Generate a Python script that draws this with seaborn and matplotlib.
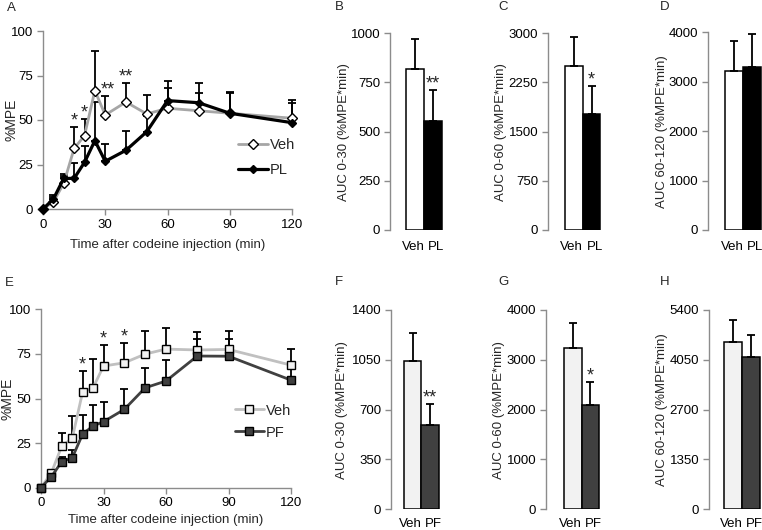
import numpy as np
import pandas as pd
import seaborn as sns
import matplotlib
matplotlib.use("Agg")
import matplotlib.pyplot as plt

sns.set_style("ticks")
plt.rcParams['font.family'] = ['Liberation Sans', 'DejaVu Sans']
plt.rcParams['font.size'] = 9.5

# time points (min)
time = [0, 5, 10, 15, 20, 25, 30, 40, 50, 60, 75, 90, 120]

# panel A : Veh vs PL (%MPE, upper SEM)
veh_a = [0, 4, 14.4, 34, 41.2, 66.5, 52.8, 60.1, 53.4, 56.6, 55.2, 53.8, 51]
veh_a_err = [0, 3, 4, 12.2, 9.4, 22.5, 10.9, 10.9, 10.6, 11.2, 10.2, 11.2, 10.2]
pl_a = [0, 5.6, 17.2, 17.2, 26.2, 38.4, 26.8, 33, 43.4, 60.9, 59.7, 53.8, 48.5]
pl_a_err = [0, 2.3, 2.5, 8.5, 9.4, 21.9, 9.5, 10.8, 9, 11.2, 10.9, 11.7, 10.9]
stars_a = [(15, '*', 46.2), (20, '*', 50.6), (31, '**', 63.7), (40, '**', 71)]

# panel E : Veh vs PF
veh_e = [0, 8.4, 23.4, 27.7, 53.8, 56, 68.2, 70, 74.9, 77.7, 77.2, 77.5, 68.7]
veh_e_err = [0, 1, 7.4, 12.5, 11.8, 16.3, 11.8, 11.3, 12.9, 11.6, 10.3, 10.4, 9.1]
pf_e = [0, 6.2, 14.6, 16.8, 30.1, 34.6, 37, 43.9, 56, 59.8, 73.8, 73.7, 60.3]
pf_e_err = [0, 2, 2.8, 4.3, 10.7, 11.8, 11.2, 11.3, 10.9, 11.8, 9.6, 9.4, 8]
stars_e = [(20, '*', 65.6), (30, '*', 80), (40, '*', 81.3)]

# AUC bars
groups_top = ['Veh', 'PL']
groups_bot = ['Veh', 'PF']
auc_b = [817, 556]; auc_b_err = [154, 156]
auc_c = [2502, 1765]; auc_c_err = [447, 432]
auc_d = [3224, 3305]; auc_d_err = [607, 655]
auc_f = [1042, 592]; auc_f_err = [199, 150]
auc_g = [3242, 2087]; auc_g_err = [490, 470]
auc_h = [4538, 4132]; auc_h_err = [580, 579]

W, H = 762, 530
fig = plt.figure(figsize=(W / 100, H / 100), dpi=100)

spine_col = '#8c8c8c'


def px_axes(left, bottom_y, top_y, width):
    # pixel coords (from top) -> figure fraction
    return fig.add_axes([left / W, (H - bottom_y) / H, width / W, (bottom_y - top_y) / H])


def style(ax):
    for s in ['top', 'right']:
        ax.spines[s].set_visible(False)
    for s in ['left', 'bottom']:
        ax.spines[s].set_color(spine_col)
        ax.spines[s].set_linewidth(1)
    ax.tick_params(colors=spine_col, labelcolor='black', length=4, width=1, labelsize=9.5, pad=3)


def line_panel(ax, ctrl, ctrl_err, trt, trt_err, trt_name, stars, ctrl_style, trt_style,
               leg_pos, leg_space, ylab_x, xpad):
    df = pd.DataFrame({'time': time, 'Veh': ctrl, trt_name: trt})
    ax.errorbar(time, ctrl, yerr=[np.zeros(len(ctrl)), ctrl_err], fmt='none',
                ecolor='black', elinewidth=1.3, capsize=3, capthick=1.3, zorder=2, clip_on=False)
    ax.errorbar(time, trt, yerr=[np.zeros(len(trt)), trt_err], fmt='none',
                ecolor='black', elinewidth=1.3, capsize=3, capthick=1.3, zorder=2, clip_on=False)
    sns.lineplot(data=df, x='time', y='Veh', ax=ax, label='Veh', zorder=3, clip_on=False, **ctrl_style)
    sns.lineplot(data=df, x='time', y=trt_name, ax=ax, label=trt_name, zorder=4, clip_on=False, **trt_style)
    for t, s, cap in stars:
        ax.text(t, cap + 0.8, s, ha='center', va='baseline', fontsize=13)
    ax.set_xlim(0, 120)
    ax.set_ylim(0, 100)
    ax.set_xticks([0, 30, 60, 90, 120])
    ax.set_yticks([0, 25, 50, 75, 100])
    ax.set_xlabel('Time after codeine injection (min)', labelpad=xpad, fontsize=9.5)
    ax.set_ylabel('%MPE', fontsize=10)
    ax.yaxis.set_label_coords(ylab_x, 0.5)
    style(ax)
    ax.legend(frameon=False, loc='center left', bbox_to_anchor=leg_pos, handlelength=2.0,
              handletextpad=0.15, labelspacing=leg_space, fontsize=10.5, borderpad=0,
              borderaxespad=0)


def bar_panel(ax, groups, vals, errs, colors, yticks, lo, ylabel, ylab_x, star=None, xpad=8):
    df = pd.DataFrame({'group': groups, 'auc': vals})
    sns.barplot(data=df, x='group', y='auc', hue='group', palette=colors, legend=False,
                width=1, edgecolor='black', linewidth=1.1, ax=ax, zorder=2)
    ax.errorbar([0, 1], vals, yerr=[[0, 0], errs], fmt='none', ecolor='black',
                elinewidth=1.3, capsize=3, capthick=1.3, zorder=3)
    ymax = yticks[-1]
    if star:
        ax.text(1, vals[1] + errs[1] + 0.008 * ymax, star, ha='center', va='baseline', fontsize=13)
    ax.set_ylim(0, ymax)
    ax.set_yticks(yticks)
    ax.set_xlim(lo, lo + 3.6)
    ax.set_xlabel('')
    style(ax)
    ax.spines['bottom'].set_visible(False)
    # spread the two group labels a little so they do not touch
    ax.set_xticks([-0.12, 1.17])
    ax.set_xticklabels(groups)
    ax.tick_params(axis='x', length=0, pad=xpad)
    ax.set_ylabel(ylabel, fontsize=9.5)
    ax.yaxis.set_label_coords(ylab_x, 0.5)


# ---- top row
ax_a = px_axes(43, 209, 31, 249)
line_panel(ax_a, veh_a, veh_a_err, pl_a, pl_a_err, 'PL', stars_a,
           dict(color='#a6a6a6', lw=2, marker='D', ms=5.2, mfc='white', mec='black', mew=1),
           dict(color='black', lw=2.3, marker='D', ms=4.5, mfc='black', mec='black', mew=1),
           (0.785, 0.287), 0.75, -0.10, 6)

top_b, top_t = 230, 33.3
bar_panel(px_axes(390, top_b, top_t, 64), groups_top, auc_b, auc_b_err, ['white', 'black'],
          [0, 250, 500, 750, 1000], -1.41, 'AUC 0-30 (%MPE*min)', -0.62, '**')
bar_panel(px_axes(548, top_b, top_t, 64), groups_top, auc_c, auc_c_err, ['white', 'black'],
          [0, 750, 1500, 2250, 3000], -1.45, 'AUC 0-60 (%MPE*min)', -0.64, '*')
bar_panel(px_axes(708, top_b, 32.3, 64), groups_top, auc_d, auc_d_err, ['white', 'black'],
          [0, 1000, 2000, 3000, 4000], -1.48, 'AUC 60-120 (%MPE*min)', -0.63)

# ---- bottom row
ax_e = px_axes(41, 487.7, 309.3, 250)
line_panel(ax_e, veh_e, veh_e_err, pf_e, pf_e_err, 'PF', stars_e,
           dict(color='#c0c0c0', lw=2, marker='s', ms=5.8, mfc='#f2f2f2', mec='black', mew=1),
           dict(color='#404040', lw=2, marker='s', ms=5.8, mfc='#404040', mec='black', mew=1),
           (0.775, 0.371), 0.55, -0.104, 3)

bot_b, bot_t = 509.3, 310
bar_panel(px_axes(391, bot_b, bot_t, 64), groups_bot, auc_f, auc_f_err, ['#f2f2f2', '#404040'],
          [0, 350, 700, 1050, 1400], -1.21, 'AUC 0-30 (%MPE*min)', -0.67, '**', xpad=6)
bar_panel(px_axes(546, bot_b, bot_t, 64), groups_bot, auc_g, auc_g_err, ['#f2f2f2', '#404040'],
          [0, 1000, 2000, 3000, 4000], -1.5, 'AUC 0-60 (%MPE*min)', -0.64, '*', xpad=6)
bar_panel(px_axes(709, bot_b, bot_t, 64), groups_bot, auc_h, auc_h_err, ['#f2f2f2', '#404040'],
          [0, 1350, 2700, 4050, 5400], -1.37, 'AUC 60-120 (%MPE*min)', -0.64, xpad=6)

# panel letters
for lbl, x, y in [('A', 7, 8), ('B', 335, 7), ('C', 498, 7), ('D', 660, 7),
                  ('E', 5, 283), ('F', 335, 282), ('G', 498, 282), ('H', 660, 282)]:
    fig.text(x / W, 1 - y / H, lbl, fontsize=9.5, va='center', ha='left')

fig.savefig('out.png', dpi=100)
